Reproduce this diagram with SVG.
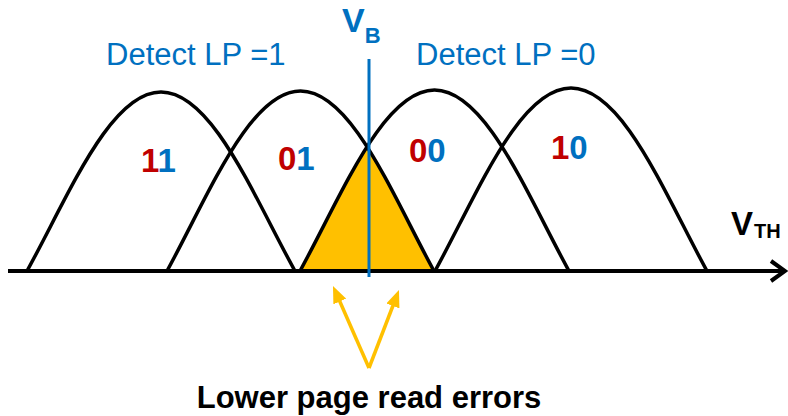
<svg xmlns="http://www.w3.org/2000/svg" width="788" height="416" viewBox="0 0 788 416">
<style>
  text { font-family: "Liberation Sans", Arial, sans-serif; }
  .curve { fill: none; stroke: #000; stroke-width: 3.5; }
  .blue { fill: #0070C0; }
  .red { fill: #C00000; }
  .lbl { font-size: 33px; font-weight: bold; }
  .det { font-size: 31px; fill: #0070C0; }
  .yarrow { stroke: #FFC000; stroke-width: 3.5; fill: none; marker-end: url(#yhead); }
</style>
<defs>
  <marker id="yhead" markerUnits="userSpaceOnUse" viewBox="0 0 17 14" refX="9" refY="7" markerWidth="17" markerHeight="14" orient="auto">
    <path d="M0,0 L17,7 L0,14 Z" fill="#FFC000"/>
  </marker>
  <clipPath id="under3">
    <path d="M300,271 C341.7,195 383.4,90 434.5,90 C485.6,90 527.3,195 569,271 Z"/>
  </clipPath>
</defs>
<rect width="788" height="416" fill="#fff"/>

<g id="overlap">
  <path d="M167,271 C208.4,195.4 249.8,91 300.5,91 C351.2,91 392.6,195.4 434,271 Z" fill="#FFC000" clip-path="url(#under3)"/>
</g>

<g id="distributions">
  <g id="dist-11"><path class="curve" d="M27,271 C68.5,195.8 110.1,92 161,92 C211.9,92 253.5,195.8 295,271"/></g>
  <g id="dist-01"><path class="curve" d="M167,271 C208.4,195.4 249.8,91 300.5,91 C351.2,91 392.6,195.4 434,271"/></g>
  <g id="dist-00"><path class="curve" d="M300,271 C341.7,195 383.4,90 434.5,90 C485.6,90 527.3,195 569,271"/></g>
  <g id="dist-10"><path class="curve" d="M435,271 C477.2,194.1 519.3,88 571,88 C622.7,88 664.8,194.1 707,271"/></g>
</g>

<g id="axis">
  <line x1="8" y1="271" x2="784" y2="271" stroke="#000" stroke-width="4"/>
  <polyline points="771,261 785,271 771,281" fill="none" stroke="#000" stroke-width="4"/>
  <text x="731" y="235" font-size="33" font-weight="bold" fill="#000">V<tspan font-size="20" dx="1" dy="3">TH</tspan></text>
</g>

<g id="vb">
  <line x1="369" y1="59" x2="369" y2="277" stroke="#0070C0" stroke-width="3"/>
  <text x="342" y="32" font-size="34" font-weight="bold" class="blue">V<tspan font-size="22" dy="11">B</tspan></text>
</g>

<g id="labels">
  <text x="106" y="65" class="det">Detect LP =1</text>
  <text x="416" y="65" class="det">Detect LP =0</text>
  <text x="141" y="172" class="lbl"><tspan class="red">1</tspan><tspan class="blue">1</tspan></text>
  <text x="278" y="170" class="lbl"><tspan class="red">0</tspan><tspan class="blue">1</tspan></text>
  <text x="409" y="162" class="lbl"><tspan class="red">0</tspan><tspan class="blue">0</tspan></text>
  <text x="551" y="159" class="lbl"><tspan class="red">1</tspan><tspan class="blue">0</tspan></text>
</g>

<g id="connectors">
  <line class="yarrow" x1="369" y1="368" x2="336.2" y2="293.3"/>
  <line class="yarrow" x1="369" y1="368" x2="396.1" y2="297.5"/>
</g>

<g id="caption">
  <text x="369" y="408" font-size="31" font-weight="bold" text-anchor="middle" fill="#000">Lower page read errors</text>
</g>
</svg>
